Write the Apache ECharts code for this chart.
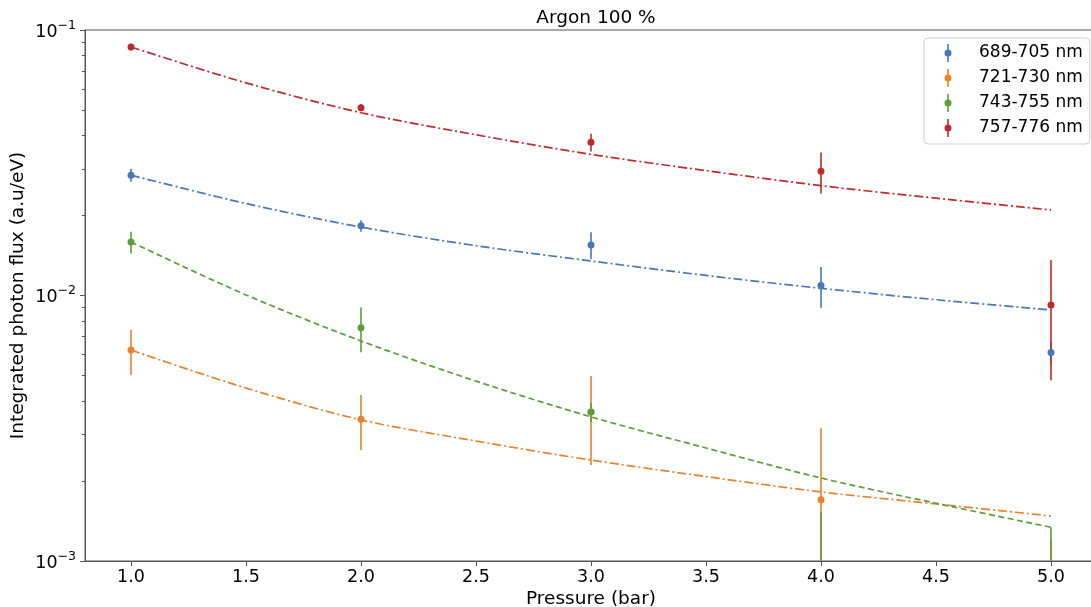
<!DOCTYPE html>
<html>
<head>
<meta charset="utf-8">
<script src="https://cdn.jsdelivr.net/npm/echarts@6/dist/echarts.min.js"></script>
<style>
html,body{margin:0;padding:0;background:#fff;}
#chart{width:1091px;height:607px;}
</style>
</head>
<body>
<div id="chart"></div>
<script>
// ---- data ----
const bandNames = ['689-705 nm', '721-730 nm', '743-755 nm', '757-776 nm'];
const pressures = [1, 2, 3, 4, 5];

const blueVals   = [0.0284, 0.0183, 0.0155, 0.0109, 0.0061];
const blueErr    = [0.0016, 0.0009, 0.0018, 0.0019, 0.0006];
const orangeVals = [0.00623, 0.00342, 0.00364, 0.0017, 0.0007];
const orangeErr  = [0.0012, 0.0008, 0.00134, 0.00146, 0.0005];
const greenVals  = [0.0159, 0.00756, 0.00364, 0.0007, 0.0006];
const greenErr   = [0.0015, 0.00145, 0.0003, 0.00083, 0.00074];
const redVals    = [0.0863, 0.0510, 0.0378, 0.0294, 0.0092];
const redErr     = [0.0025, 0.0015, 0.0029, 0.0052, 0.0044];

const fitX       = [1, 1.5, 2, 2.5, 3, 3.5, 4, 4.5, 5];
const blueFit    = [0.0284, 0.0222, 0.0181, 0.01540, 0.01349, 0.01190, 0.01064, 0.00964, 0.00882];
const orangeFit  = [0.00623, 0.00448, 0.0034, 0.00283, 0.0024, 0.00208, 0.00182, 0.00164, 0.001477];
const greenFit   = [0.0159, 0.01005, 0.00674, 0.00476, 0.00349, 0.002665, 0.002054, 0.00165, 0.00134];
const redFit     = [0.0863, 0.0632, 0.0488, 0.0403, 0.0340, 0.02954, 0.02592, 0.02325, 0.0210];

const xTicks = [1.0, 1.5, 2.0, 2.5, 3.0, 3.5, 4.0, 4.5, 5.0];
const yMajorTicks = [0.001, 0.01, 0.1];
const yMinorTicks = [0.002, 0.003, 0.004, 0.005, 0.006, 0.007, 0.008, 0.009,
                     0.02, 0.03, 0.04, 0.05, 0.06, 0.07, 0.08, 0.09];

// ---- styling ----
const colors = ['#4878b8', '#e8822c', '#5c9e3c', '#c0292d'];
const FONT = 'DejaVu Sans';
const dashDot = [9, 3, 2, 3];
const dashed = [6, 3.5];
const lineTypes = [dashDot, dashDot, dashed, dashDot];

const bands = [
  {vals: blueVals, err: blueErr, fit: blueFit},
  {vals: orangeVals, err: orangeErr, fit: orangeFit},
  {vals: greenVals, err: greenErr, fit: greenFit},
  {vals: redVals, err: redErr, fit: redFit}
];

const legendIcon = 'path://M0,0 M48,18 M23.2,0 L24.8,0 L24.8,18 L23.2,18 Z M24,5.5 A3.5,3.5 0 1 1 24,12.5 A3.5,3.5 0 1 1 24,5.5 Z';

function errRender(color) {
  return function (params, api) {
    const cs = params.coordSys;
    const x = api.value(0), lo = api.value(1), hi = api.value(2);
    const top = api.coord([x, hi]);
    let yBottom = lo > 0 ? api.coord([x, lo])[1] : cs.y + cs.height;
    let yTop = top[1];
    const minY = cs.y, maxY = cs.y + cs.height;
    if (yTop > maxY) return null;
    yTop = Math.max(minY, Math.min(maxY, yTop));
    yBottom = Math.max(minY, Math.min(maxY, yBottom));
    return {
      type: 'line',
      shape: {x1: top[0], y1: yTop, x2: top[0], y2: yBottom},
      style: {stroke: color, lineWidth: 1.6}
    };
  };
}

const series = [];
bands.forEach((b, i) => {
  series.push({
    name: bandNames[i],
    type: 'custom',
    renderItem: errRender(colors[i]),
    encode: {x: 0, y: [1, 2]},
    data: pressures.map((p, k) => [p, b.vals[k] - b.err[k], b.vals[k] + b.err[k]]),
    silent: true,
    z: 2
  });
  series.push({
    name: bandNames[i],
    type: 'scatter',
    symbol: 'circle',
    symbolSize: 7,
    clip: true,
    itemStyle: {color: colors[i], opacity: 1},
    data: pressures.map((p, k) => [p, b.vals[k]]),
    silent: true,
    z: 3
  });
  series.push({
    name: bandNames[i],
    type: 'line',
    smooth: 0.3,
    showSymbol: false,
    clip: true,
    lineStyle: {color: colors[i], width: 1.7, type: lineTypes[i]},
    data: fitX.map((x, k) => [x, b.fit[k]]),
    silent: true,
    z: 2
  });
});

function yLabel(v) {
  const e = Math.round(Math.log10(v));
  return '{b|10}{s|' + (e < 0 ? '\u2212' : '') + Math.abs(e) + '}';
}

const option = {
  animation: false,
  backgroundColor: '#fff',
  textStyle: {fontFamily: FONT},
  title: {
    text: 'Argon 100 %',
    left: 591,
    textAlign: 'center',
    top: 4,
    textStyle: {fontFamily: FONT, fontSize: 18.5, fontWeight: 'normal', color: '#000'}
  },
  legend: {
    left: 924,
    top: 38,
    orient: 'vertical',
    selectedMode: false,
    itemWidth: 48,
    itemHeight: 18,
    itemGap: 7,
    padding: [6, 7, 7, 0],
    borderColor: '#d0d0d0',
    borderWidth: 1,
    borderRadius: 4,
    backgroundColor: 'rgba(255,255,255,0.8)',
    textStyle: {fontFamily: FONT, fontSize: 17, color: '#000', padding: [0, 0, 0, 2]},
    data: bandNames.map((n, i) => ({name: n, icon: legendIcon, itemStyle: {color: colors[i]}}))
  },
  grid: {
    left: 85, top: 30, right: -6, bottom: 46,
    outerBoundsMode: 'none',
    containLabel: false,
    show: true, borderColor: '#555', borderWidth: 1, backgroundColor: 'transparent'
  },
  xAxis: {
    type: 'value',
    min: 0.8, max: 5.2,
    name: 'Pressure (bar)',
    nameLocation: 'middle',
    nameGap: 29,
    nameMoveOverlap: false,
    nameTextStyle: {fontFamily: FONT, fontSize: 18.5, color: '#000'},
    axisLine: {show: true, lineStyle: {color: '#555', width: 1}},
    axisTick: {show: true, length: 5, customValues: xTicks, lineStyle: {color: '#555'}},
    axisLabel: {customValues: xTicks, fontFamily: FONT, fontSize: 17.5, color: '#000', margin: 7,
                formatter: v => v.toFixed(1)},
    splitLine: {show: false}
  },
  yAxis: [{
    type: 'log',
    logBase: 10,
    min: 0.001, max: 0.1,
    name: 'Integrated photon flux (a.u/eV)',
    nameLocation: 'middle',
    nameGap: 57,
    nameMoveOverlap: false,
    nameTextStyle: {fontFamily: FONT, fontSize: 18.5, color: '#000'},
    axisLine: {show: true, lineStyle: {color: '#555', width: 1}},
    axisTick: {show: true, length: 5, customValues: yMajorTicks, lineStyle: {color: '#555'}},
    axisLabel: {
      customValues: yMajorTicks,
      margin: 9,
      formatter: yLabel,
      rich: {
        b: {fontFamily: FONT, fontSize: 17.5, color: '#000', lineHeight: 22, verticalAlign: 'bottom'},
        s: {fontFamily: FONT, fontSize: 12.5, color: '#000', lineHeight: 22, verticalAlign: 'top'}
      }
    },
    splitLine: {show: false},
    minorTick: {show: false}
  }, {
    type: 'log',
    logBase: 10,
    min: 0.001, max: 0.1,
    position: 'left',
    axisLine: {show: false},
    axisTick: {show: true, length: 3, customValues: yMinorTicks, lineStyle: {color: '#555'}},
    axisLabel: {show: false},
    splitLine: {show: false}
  }],
  series: series
};

const chart = echarts.init(document.getElementById('chart'), null, {renderer: 'canvas'});
chart.setOption(option);
</script>
</body>
</html>
